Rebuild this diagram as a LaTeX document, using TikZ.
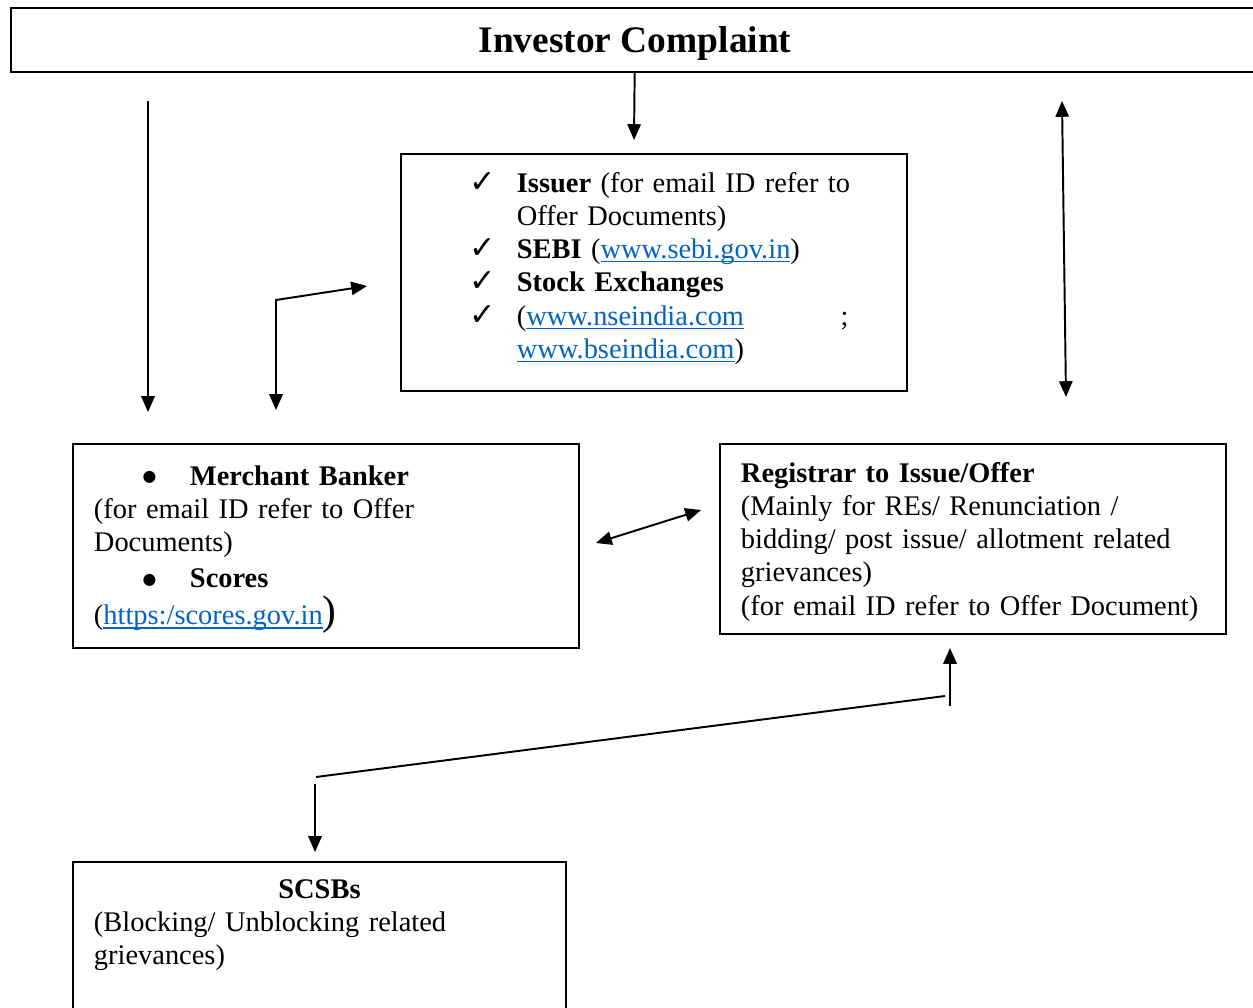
\documentclass[tikz,border=0pt]{standalone}
\usepackage{fontspec}
\setmainfont{Liberation Serif}
\newfontfamily\symfont{DejaVu Sans}
\usepackage{xcolor}
\usetikzlibrary{arrows.meta}

\definecolor{linkblue}{RGB}{5,99,193}
\newcommand{\pxu}{0.4115pt}
\newcommand{\weblink}[1]{\textcolor{linkblue}{\setbox0\hbox{#1}\rlap{\rule[-1.6pt]{\wd0}{0.6pt}}\box0}}
\newcommand{\tick}{\makebox[18.9pt][l]{\hspace*{-0.5pt}\symfont\fontsize{13}{13}\selectfont ✓}}
\newcommand{\hang}{\hspace*{18.9pt}}
\newcommand{\dotitem}{\hspace*{20pt}\makebox[19.5pt][l]{\raisebox{1.3pt}{\symfont\fontsize{6.5}{6.5}\selectfont ●}}}

\tikzset{
  panel/.style={draw, inner sep=0pt, anchor=north west},
  txt/.style={inner sep=0pt, anchor=base west, text width=215pt, align=left,
    font=\fontsize{11.7}{13.7}\selectfont},
}

\begin{document}
\begin{tikzpicture}[x=\pxu, y=-\pxu, line width=0.8pt, >={Triangle[length=6.5pt,width=5.5pt]}]
  \useasboundingbox (0,0) rectangle (1253,1007);

  % boxes
  \node[panel, minimum width=1248*\pxu, minimum height=64*\pxu, text depth=0pt,
    font=\fontsize{15.4}{17}\selectfont\bfseries] (complaint) at (10,7) {Investor Complaint};
  \node[panel, minimum width=506*\pxu, minimum height=237*\pxu] (issuer) at (400,153) {};
  \node[panel, minimum width=506*\pxu, minimum height=204*\pxu] (banker) at (72,443) {};
  \node[panel, minimum width=506*\pxu, minimum height=190*\pxu] (registrar) at (719,443) {};
  \node[panel, minimum width=493*\pxu, minimum height=170*\pxu] (scsb) at (72,861) {};

  % texts
  \node[txt] (issuertext) at (470,192) {%
    \tick\textbf{Issuer} (for email ID refer to\\
    \hang Offer Documents)\\
    \tick\textbf{SEBI} (\weblink{www.sebi.gov.in})\\
    \tick\textbf{Stock Exchanges}\\
    \tick\makebox[136.5pt][l]{(\weblink{www.nseindia.com}\hfill;}\\
    \hang\weblink{www.bseindia.com})};
  \node[txt] (bankertext) at (93,485) {%
    \dotitem\textbf{Merchant Banker}\\
    (for email ID refer to Offer\\
    Documents)\\[1.2pt]
    \dotitem\textbf{Scores}\\[1.6pt]
    (\weblink{https:/scores.gov.in}{\fontsize{17}{17}\selectfont)}};
  \node[txt] (registrartext) at (740,482) {%
    \textbf{Registrar to Issue/Offer}\\
    (Mainly for REs/ Renunciation /\\
    bidding/ post issue/ allotment related\\
    grievances)\\
    (for email ID refer to Offer Document)};
  \node[txt] (scsbtext) at (93,898) {%
    \makebox[185.6pt][c]{\textbf{SCSBs}}\\
    (Blocking/ Unblocking related\\
    grievances)};

  % connector ends
  \coordinate (mb-top) at (148,101);
  \coordinate (mb-in) at (148,412);
  \coordinate (issuer-in) at (634,140);
  \coordinate (bend) at (276,300);
  \coordinate (bend-issuer) at (367,286);
  \coordinate (bend-mb) at (276,410);
  \coordinate (reg-top) at (1062,101);
  \coordinate (reg-in) at (1066,397);
  \coordinate (mb-side) at (596,543);
  \coordinate (reg-side) at (701,510);
  \coordinate (cross-a) at (316,777);
  \coordinate (cross-b) at (945,696);
  \coordinate (reg-from) at (950,706);
  \coordinate (reg-up) at (950,648);
  \coordinate (scsb-from) at (315,784);
  \coordinate (scsb-in) at (315,852);

  % arrows
  \draw[->] (mb-top) -- (mb-in);
  \draw[->] (complaint) -- (issuer-in);
  \draw[<->] (bend-issuer) -- (bend) -- (bend-mb);
  \draw[<->] (reg-top) -- (reg-in);
  \draw[<->] (mb-side) -- (reg-side);
  \draw (cross-a) -- (cross-b);
  \draw[->] (reg-from) -- (reg-up);
  \draw[->] (scsb-from) -- (scsb-in);
\end{tikzpicture}
\end{document}
